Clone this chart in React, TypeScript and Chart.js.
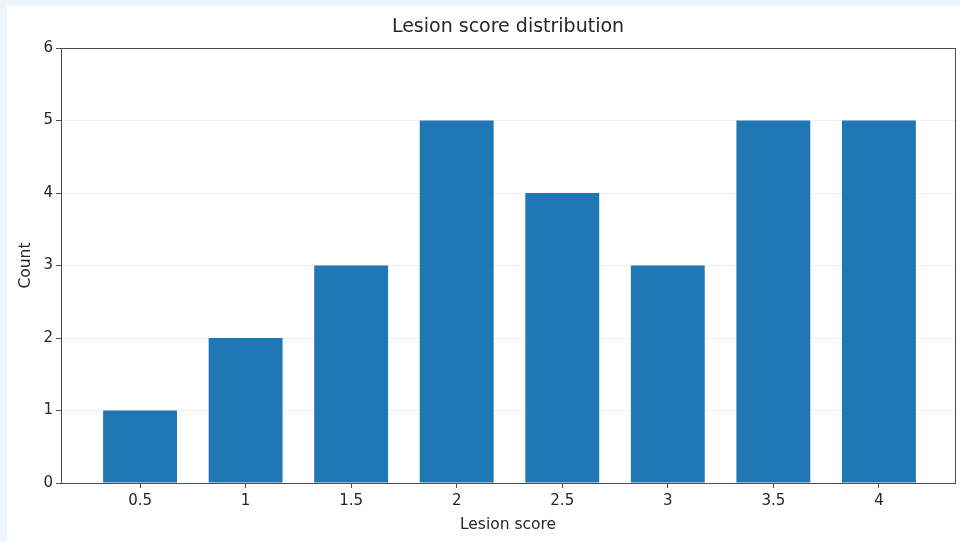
import React, { useEffect, useRef } from "react";
import { Chart, registerables } from "chart.js";

Chart.register(...registerables);

const scores = [0.5, 1, 1.5, 2, 2.5, 3, 3.5, 4];
const counts = [1, 2, 3, 5, 4, 3, 5, 5];
const xTicks = [0.5, 1, 1.5, 2, 2.5, 3, 3.5, 4];
const yTicks = [0, 1, 2, 3, 4, 5, 6];
const TITLE = "Lesion score distribution";

const FONT = "'DejaVu Sans', sans-serif";
const TEXT = "#262626";
const SPINE = "#4d4d4d";

const spinesPlugin = {
  id: "spines",
  afterDatasetsDraw(chart: any) {
    const { ctx, chartArea } = chart;
    ctx.save();
    ctx.strokeStyle = SPINE;
    ctx.lineWidth = 1;
    ctx.strokeRect(
      Math.round(chartArea.left) + 0.5,
      Math.round(chartArea.top) + 0.5,
      Math.round(chartArea.right - chartArea.left),
      Math.round(chartArea.bottom - chartArea.top)
    );
    // axes-centred title (matplotlib style)
    ctx.fillStyle = TEXT;
    ctx.font = `19px ${FONT}`;
    ctx.textAlign = "center";
    ctx.textBaseline = "middle";
    ctx.fillText(TITLE, (chartArea.left + chartArea.right) / 2, 21.5);
    ctx.restore();
  },
};

export default function App() {
  const ref = useRef<HTMLCanvasElement>(null);

  useEffect(() => {
    if (!ref.current) return;
    const chart = new Chart(ref.current, {
      type: "bar",
      data: {
        datasets: [
          {
            data: scores.map((s, i) => ({ x: s, y: counts[i] })),
            backgroundColor: "#1f77b4",
            borderWidth: 0,
            barPercentage: 0.7,
            categoryPercentage: 1,
          },
        ],
      },
      options: {
        animation: false,
        responsive: false,
        devicePixelRatio: 1,
        layout: { padding: { left: 0, right: 5, top: 42, bottom: 0 } },
        plugins: {
          legend: { display: false },
          tooltip: { enabled: false },
          title: { display: false },
        },
        scales: {
          x: {
            type: "linear",
            offset: false,
            min: 0.1255,
            max: 4.3605,
            afterBuildTicks(scale: any) {
              scale.ticks = xTicks.map((v) => ({ value: v }));
            },
            afterFit(scale: any) {
              scale.height = 58;
            },
            ticks: {
              color: TEXT,
              font: { family: FONT, size: 15 },
              padding: 4,
              autoSkip: false,
              maxRotation: 0,
              callback: (v: any) => String(v),
            },
            grid: {
              offset: false,
              drawOnChartArea: false,
              drawTicks: true,
              tickLength: 5,
              tickColor: SPINE,
            },
            border: { display: true, color: SPINE, width: 1 },
            title: {
              display: true,
              text: "Lesion score",
              color: TEXT,
              font: { family: FONT, size: 15.5, lineHeight: 1.2 },
              padding: { top: 0, bottom: 6.7 },
            },
          },
          y: {
            type: "linear",
            min: 0,
            max: 6,
            afterBuildTicks(scale: any) {
              scale.ticks = yTicks.map((v) => ({ value: v }));
            },
            afterFit(scale: any) {
              scale.width = 54;
            },
            ticks: {
              color: TEXT,
              font: { family: FONT, size: 15 },
              padding: 3,
            },
            grid: {
              color: "rgba(0,0,0,0.06)",
              drawTicks: true,
              tickLength: 5,
              tickColor: SPINE,
            },
            border: { display: true, color: SPINE, width: 1 },
            title: {
              display: true,
              text: "Count",
              color: TEXT,
              font: { family: FONT, size: 15.5, lineHeight: 1.2 },
              padding: { top: 9.5, bottom: 0 },
            },
          },
        },
      },
      plugins: [spinesPlugin],
    } as any);
    return () => chart.destroy();
  }, []);

  return (
    <div
      style={{
        position: "fixed",
        left: 0,
        top: 0,
        width: 960,
        height: 541,
        background: "#eef5fa",
        overflow: "hidden",
      }}
    >
      <div
        style={{
          position: "absolute",
          left: 7,
          top: 6,
          width: 953,
          height: 535,
          background: "#ffffff",
        }}
      >
        <canvas ref={ref} width={953} height={535} style={{ display: "block", width: 953, height: 535 }} />
      </div>
    </div>
  );
}
